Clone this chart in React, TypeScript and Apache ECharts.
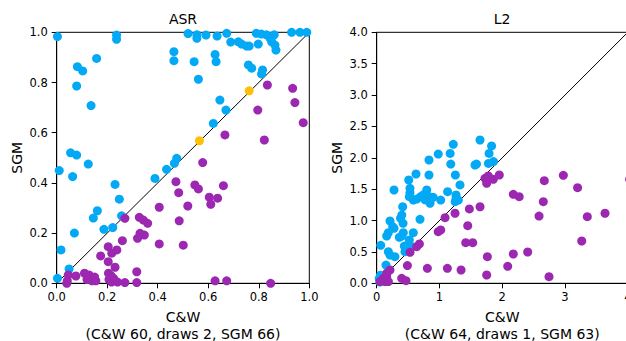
import React, { useEffect, useRef } from "react";
import * as echarts from "echarts";

// ASR subplot: [C&W, SGM]
const asrBlue: number[][] = [
  [0.003, 0.983], [0.237, 0.989], [0.237, 0.972], [0.158, 0.896], [0.082, 0.863], [0.103, 0.846],
  [0.079, 0.786], [0.136, 0.708], [0.055, 0.52], [0.079, 0.511], [0.125, 0.475], [0.01, 0.449],
  [0.063, 0.425], [0.231, 0.394], [0.248, 0.335], [0.161, 0.289], [0.145, 0.26], [0.257, 0.269],
  [0.187, 0.215], [0.222, 0.222], [0.07, 0.2], [0.017, 0.133], [0.049, 0.057], [0.003, 0.02],
  [0.389, 0.418], [0.435, 0.454], [0.466, 0.478], [0.475, 0.498], [0.62, 0.637], [0.67, 0.69],
  [0.646, 0.73], [0.815, 0.85], [0.811, 0.834], [0.759, 0.87], [0.772, 0.857], [0.561, 0.813],
  [0.544, 0.883], [0.464, 0.923], [0.464, 0.887], [0.627, 0.912], [0.631, 0.883], [0.689, 0.961],
  [0.719, 0.962], [0.732, 0.953], [0.752, 0.945], [0.762, 0.945], [0.798, 0.953], [0.845, 0.976],
  [0.851, 0.962], [0.864, 0.949], [0.868, 0.929], [0.861, 0.99], [0.52, 0.995], [0.555, 0.99],
  [0.555, 0.976], [0.591, 0.989], [0.635, 0.985], [0.673, 0.996], [0.79, 0.996], [0.81, 0.993],
  [0.83, 0.99], [0.93, 1.0], [0.963, 1.0], [0.99, 1.0],
];
const asrPurple: number[][] = [
  [0.834, 0.79], [0.934, 0.777], [0.943, 0.72], [0.796, 0.69], [0.976, 0.64], [0.666, 0.591],
  [0.822, 0.571], [0.578, 0.481], [0.547, 0.392], [0.561, 0.376], [0.66, 0.389], [0.604, 0.343],
  [0.637, 0.339], [0.61, 0.315], [0.472, 0.405], [0.483, 0.361], [0.519, 0.308], [0.406, 0.303],
  [0.485, 0.249], [0.406, 0.157], [0.501, 0.152], [0.627, 0.01], [0.673, 0.01], [0.847, 0.0],
  [0.27, 0.259], [0.327, 0.263], [0.343, 0.252], [0.36, 0.239], [0.33, 0.199], [0.347, 0.192],
  [0.32, 0.179], [0.26, 0.17], [0.174, 0.109], [0.204, 0.146], [0.218, 0.12], [0.238, 0.133],
  [0.204, 0.086], [0.231, 0.064], [0.317, 0.046], [0.205, 0.04], [0.215, 0.03], [0.207, 0.015],
  [0.11, 0.04], [0.128, 0.033], [0.135, 0.025], [0.15, 0.025], [0.14, 0.01], [0.155, 0.01],
  [0.12, 0.015], [0.076, 0.029], [0.046, 0.033], [0.042, 0.01], [0.27, 0.003], [0.317, 0.003],
  [0.241, 0.005], [0.217, 0.005], [0.04, 0.0], [0.225, 0.02],
];
const asrDraws: number[][] = [[0.762, 0.767], [0.565, 0.568]];

// L2 subplot: [C&W, SGM]
const l2Blue: number[][] = [
  [1.22, 2.215], [1.646, 2.284], [1.83, 2.19], [1.79, 2.07], [0.98, 2.06], [1.17, 2.07],
  [0.833, 1.965], [1.86, 1.94], [1.78, 1.91], [1.18, 1.9], [1.566, 1.885], [1.59, 1.9],
  [0.626, 1.742], [0.833, 1.726], [1.253, 1.726], [0.51, 1.646], [1.327, 1.567], [0.276, 1.487],
  [0.53, 1.514], [0.53, 1.444], [0.52, 1.38], [0.583, 1.327], [0.637, 1.343], [0.7, 1.38],
  [0.743, 1.41], [0.797, 1.487], [0.838, 1.38], [0.85, 1.275], [0.9, 1.37], [0.77, 1.33],
  [1.02, 1.327], [1.13, 1.46], [1.264, 1.407], [1.264, 1.354], [1.25, 1.3], [1.3, 1.327],
  [0.414, 1.22], [0.4, 1.088], [0.38, 1.035], [0.42, 0.956], [0.69, 1.02], [0.212, 0.993],
  [0.255, 0.902], [0.185, 0.806], [0.159, 0.754], [0.276, 0.876], [0.424, 0.806], [0.398, 0.754],
  [0.36, 0.733], [0.583, 0.806], [0.52, 0.69], [0.44, 0.594], [0.52, 0.594], [0.56, 0.583],
  [0.185, 0.504], [0.212, 0.45], [0.45, 0.504], [0.29, 0.424], [0.064, 0.605], [0.148, 0.29],
  [0.06, 0.13], [0.04, 0.075], [0.05, 0.02], [0.08, 0.1],
];
const l2Purple: number[][] = [
  [1.725, 1.673], [1.778, 1.71], [1.752, 1.594], [1.858, 1.657], [1.953, 1.726], [2.67, 1.635],
  [2.973, 1.721], [3.2, 1.524], [2.176, 1.418], [2.27, 1.38], [2.654, 1.3], [3.637, 1.116],
  [3.355, 1.062], [2.586, 1.072], [1.646, 1.22], [3.266, 0.674], [1.763, 0.424], [2.176, 0.467],
  [2.405, 0.499], [2.087, 0.271], [1.752, 0.132], [2.745, 0.105], [1.476, 1.185], [1.248, 1.116],
  [1.089, 1.046], [1.02, 0.85], [0.98, 0.823], [1.45, 0.919], [1.418, 0.648], [1.53, 0.648],
  [0.68, 0.627], [0.637, 0.584], [0.531, 0.494], [1.344, 0.212], [1.126, 0.239], [0.807, 0.239],
  [0.489, 0.282], [0.398, 0.08], [0.467, 0.042], [0.212, 0.212], [0.159, 0.106], [0.133, 0.027],
  [0.186, 0.027], [0.106, 0.08], [0.053, 0.027], [0.16, 0.16], [4.03, 1.66],
];

const asrTicks = ["0.0", "0.2", "0.4", "0.6", "0.8", "1.0"];
const l2XTicks = ["0", "1", "2", "3", "4"];
const l2YTicks = ["0.0", "0.5", "1.0", "1.5", "2.0", "2.5", "3.0", "3.5", "4.0"];
const titles = ["ASR", "L2"];
const xNames = ["C&W\n(C&W 60, draws 2, SGM 66)", "C&W\n(C&W 64, draws 1, SGM 63)"];
const yName = "SGM";

const BLUE = "#03A9F4";
const PURPLE = "#9C27B0";
const AMBER = "#FFC107";
const FONT = "DejaVu Sans";

function fmt1(v: number) {
  return Number(v).toFixed(1);
}

export default function App() {
  const ref = useRef<HTMLDivElement>(null);
  useEffect(() => {
    if (!ref.current) return;
    const chart = echarts.init(ref.current, undefined, { renderer: "svg" });
    const axisCommon = {
      type: "value" as const,
      axisLine: { show: true, lineStyle: { color: "#000", width: 1 } },
      axisTick: { show: true, length: 5, lineStyle: { color: "#000", width: 1 } },
      splitLine: { show: false },
    };
    const labelStyle = { fontFamily: FONT, fontSize: 11.5, color: "#000" };
    const nameStyle = { fontFamily: FONT, fontSize: 14, color: "#000", lineHeight: 17 };
    const gridCommon = {
      show: true,
      borderColor: "#000",
      borderWidth: 1,
      backgroundColor: "transparent",
      containLabel: false,
      outerBoundsMode: "none",
    };
    const sym = 9;
    const option: any = {
      animation: false,
      backgroundColor: "#fff",
      title: [
        { text: titles[0], left: 183, top: 12, textAlign: "center", padding: 0,
          textStyle: { fontFamily: FONT, fontSize: 14, fontWeight: "normal", color: "#000" } },
        { text: titles[1], left: 502, top: 12, textAlign: "center", padding: 0,
          textStyle: { fontFamily: FONT, fontSize: 14, fontWeight: "normal", color: "#000" } },
      ],
      grid: [
        { ...gridCommon, left: 56.7, top: 32.3, width: 252.6, height: 251 },
        { ...gridCommon, left: 376.7, top: 32.3, width: 251.1, height: 251 },
      ],
      xAxis: [
        { ...axisCommon, gridIndex: 0, min: 0, max: 1, interval: 0.2,
          name: xNames[0], nameLocation: "middle", nameGap: 22, nameTextStyle: nameStyle,
          axisLabel: { ...labelStyle, margin: 8, formatter: (v: number) => asrTicks[Math.round(v / 0.2)] ?? fmt1(v) } },
        { ...axisCommon, gridIndex: 1, min: 0, max: 4, interval: 1,
          name: xNames[1], nameLocation: "middle", nameGap: 22, nameTextStyle: nameStyle,
          axisLabel: { ...labelStyle, margin: 8, formatter: (v: number) => l2XTicks[Math.round(v)] ?? String(v) } },
      ],
      yAxis: [
        { ...axisCommon, gridIndex: 0, min: 0, max: 1, interval: 0.2,
          name: yName, nameLocation: "middle", nameGap: 31, nameTextStyle: nameStyle,
          axisLabel: { ...labelStyle, margin: 9, formatter: (v: number) => asrTicks[Math.round(v / 0.2)] ?? fmt1(v) } },
        { ...axisCommon, gridIndex: 1, min: 0, max: 4, interval: 0.5,
          name: yName, nameLocation: "middle", nameGap: 31, nameTextStyle: nameStyle,
          axisLabel: { ...labelStyle, margin: 9, formatter: (v: number) => l2YTicks[Math.round(v / 0.5)] ?? fmt1(v) } },
      ],
      series: [
        { type: "line", xAxisIndex: 0, yAxisIndex: 0, data: [[0, 0], [1, 1]], symbol: "none",
          lineStyle: { color: "#000", width: 1 }, z: 1, silent: true },
        { type: "line", xAxisIndex: 1, yAxisIndex: 1, data: [[0, 0], [4, 4]], symbol: "none",
          lineStyle: { color: "#000", width: 1 }, z: 1, silent: true },
        { type: "scatter", xAxisIndex: 0, yAxisIndex: 0, data: asrBlue, symbolSize: sym,
          itemStyle: { color: BLUE, opacity: 1 }, z: 2 },
        { type: "scatter", xAxisIndex: 0, yAxisIndex: 0, data: asrPurple, symbolSize: sym,
          itemStyle: { color: PURPLE, opacity: 1 }, z: 2 },
        { type: "scatter", xAxisIndex: 0, yAxisIndex: 0, data: asrDraws, symbolSize: sym,
          itemStyle: { color: AMBER, opacity: 1 }, z: 3 },
        { type: "scatter", xAxisIndex: 1, yAxisIndex: 1, data: l2Blue, symbolSize: sym,
          itemStyle: { color: BLUE, opacity: 1 }, z: 2 },
        { type: "scatter", xAxisIndex: 1, yAxisIndex: 1, data: l2Purple, symbolSize: sym, clip: false,
          itemStyle: { color: PURPLE, opacity: 1 }, z: 2 },
      ],
    };
    chart.setOption(option);
    return () => chart.dispose();
  }, []);
  return (
    <div style={{ position: "fixed", left: 0, top: 0, width: 626, height: 341, overflow: "hidden", background: "#fff" }}>
      <div ref={ref} style={{ width: 626, height: 341 }} />
    </div>
  );
}
